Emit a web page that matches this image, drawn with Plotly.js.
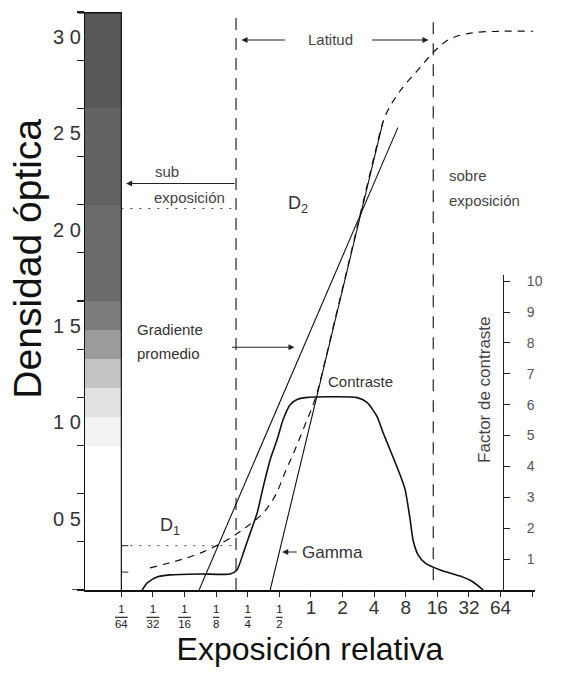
<!DOCTYPE html>
<html>
<head>
<meta charset="utf-8">
<script src="https://cdn.plot.ly/plotly-3.0.1.min.js"></script>
<style>html,body{margin:0;padding:0;background:#fff;}</style>
</head>
<body>
<div id="chart" style="width:566px;height:677px;"></div>
<script>
// ---- data (x = log2 of relative exposure, y = optical density) ----
const expTickVals = [-6, -5, -4, -3, -2, -1, 0, 1, 2, 3, 4, 5, 6, 7];
const expIntLabels = ['', '', '', '', '', '', '1', '2', '4', '8', '16', '32', '64', ''];
const expFracDen = ['64', '32', '16', '8', '4', '2', '', '', '', '', '', '', '', ''];

const densityTicks = [0, 0.25, 0.5, 0.75, 1.0, 1.25, 1.5, 1.75, 2.0, 2.25, 2.5, 2.75, 3.0];
const densityLabels = ['', '', '0 5', '', '1 0', '', '1 5', '', '2 0', '', '2 5', '', '3 0'];

const factorTicks = [1, 2, 3, 4, 5, 6, 7, 8, 9, 10];
const factorLabels = ['1', '2', '3', '4', '5', '6', '7', '8', '9', '10'];

// characteristic (H&D) curve, dashed
const hdX = [-5.09, -4.61, -4.14, -3.41, -2.65, -2.02, -1.51, -1.13, -0.82, -0.50, -0.18, 0.13, 0.45, 0.77, 1.08, 1.40, 1.72, 2.03, 2.35, 2.82, 3.39, 3.93, 4.40, 5.04, 5.99, 7.03];
const hdD = [0.115, 0.135, 0.156, 0.198, 0.26, 0.33, 0.40, 0.49, 0.61, 0.73, 0.86, 0.99, 1.19, 1.41, 1.62, 1.84, 2.06, 2.27, 2.46, 2.59, 2.70, 2.80, 2.86, 2.89, 2.90, 2.90];

// gamma tangent and average gradient lines
const gammaX = [-1.29, 2.28];
const gammaD = [0.0, 2.43];
const gradX = [-3.54, 2.75];
const gradD = [0.0, 2.40];

// contrast factor curve (right axis)
const contrastX = [-5.34, -5.18, -4.87, -4.46, -3.51, -2.56, -2.34, -2.14, -1.92, -1.70, -1.51, -1.29, -1.07, -0.88, -0.66, -0.44, -0.18, 1.46, 1.78, 2.09, 2.28, 2.50, 2.82, 2.98, 3.14, 3.23, 3.39, 3.61, 4.09, 4.72, 5.13, 5.45];
const contrastF = [0, 0.23, 0.42, 0.49, 0.52, 0.52, 0.65, 1.2, 1.85, 2.5, 3.34, 4.22, 4.87, 5.52, 6.0, 6.17, 6.23, 6.23, 6.07, 5.62, 5.10, 4.55, 3.73, 3.25, 2.27, 1.62, 1.14, 0.88, 0.65, 0.45, 0.26, 0];

// latitude limits and densities D1, D2
const latitudeX = [-2.37, 3.87];
const densD1 = 0.23;
const densD2 = 1.98;
const fogD = 0.093;

// grey step wedge at the left (density -> tone)
const wedgeX = [-7.15, -6];
const wedgeEdges = [0, 0.75, 0.9, 1.05, 1.2, 1.35, 1.5, 2.0, 2.5, 3.0];
const wedgeTone = [0, 0.05, 0.12, 0.25, 0.42, 0.55, 0.62, 0.66, 0.70];

// ---- traces ----
const FONT = 'Liberation Sans, Arial, sans-serif';
const traces = [
  {
    type: 'heatmap', x: wedgeX, y: wedgeEdges, z: wedgeTone.map(v => [v]),
    zmin: 0, zmax: 1, colorscale: [[0, '#ffffff'], [1, '#111111']],
    showscale: false, hoverinfo: 'skip'
  },
  {
    x: hdX, y: hdD, mode: 'lines', line: {color: '#111', width: 1.2, dash: '7px,6px', shape: 'spline'},
    hoverinfo: 'skip', showlegend: false
  },
  {
    x: gammaX, y: gammaD, mode: 'lines', line: {color: '#111', width: 1.1},
    hoverinfo: 'skip', showlegend: false
  },
  {
    x: gradX, y: gradD, mode: 'lines', line: {color: '#111', width: 1.1},
    hoverinfo: 'skip', showlegend: false
  },
  {
    x: [latitudeX[0], latitudeX[0]], y: [0, 2.97], mode: 'lines',
    line: {color: '#111', width: 1.1, dash: '12px,8px'}, hoverinfo: 'skip', showlegend: false
  },
  {
    x: [latitudeX[1], latitudeX[1]], y: [0.05, 2.95], mode: 'lines',
    line: {color: '#111', width: 1.1, dash: '12px,9px'}, hoverinfo: 'skip', showlegend: false
  },
  {
    x: [-6, latitudeX[0]], y: [densD1, densD1], mode: 'lines',
    line: {color: '#444', width: 1, dash: '2px,7px'}, hoverinfo: 'skip', showlegend: false
  },
  {
    x: [-6, latitudeX[0]], y: [densD2, densD2], mode: 'lines',
    line: {color: '#444', width: 1, dash: '2px,7px'}, hoverinfo: 'skip', showlegend: false
  },
  {
    x: contrastX, y: contrastF, yaxis: 'y2', mode: 'lines',
    line: {color: '#111', width: 1.6, shape: 'spline', smoothing: 0.6},
    hoverinfo: 'skip', showlegend: false
  },
  {
    x: expTickVals, y: expTickVals.map(() => 0), xaxis: 'x2', mode: 'markers',
    marker: {opacity: 0}, hoverinfo: 'skip', showlegend: false
  }
];

const annFont = (s, c) => ({family: FONT, size: s, color: c || '#333'});
const arrow = (x, y, ax, ay) => ({
  x: x, y: y, xref: 'x', yref: 'y', ax: ax, ay: ay, axref: 'pixel', ayref: 'pixel',
  text: '', showarrow: true, arrowhead: 2, arrowsize: 1.1, arrowwidth: 1.1, arrowcolor: '#222'
});

const layout = {
  width: 566, height: 677,
  margin: {l: 85, r: 31, t: 12, b: 87},
  paper_bgcolor: '#fff', plot_bgcolor: 'rgba(0,0,0,0)',
  showlegend: false,
  font: {family: FONT, color: '#222'},
  xaxis: {
    range: [-7.15, 7.09], showgrid: false, zeroline: false,
    showline: true, linecolor: '#111', linewidth: 1.5,
    tickvals: expTickVals, ticktext: expIntLabels,
    ticks: '',
    tickfont: {family: FONT, size: 19, color: '#333'},
    title: {text: 'Exposición relativa', font: {family: FONT, size: 32, color: '#111'}, standoff: 20}
  },
  xaxis2: {
    overlaying: 'x', anchor: 'y', side: 'bottom', range: [-7.15, 7.09],
    showgrid: false, zeroline: false, showline: false,
    ticks: 'outside', ticklen: 6, tickcolor: '#222', tickwidth: 1,
    tickvals: expTickVals,
    ticktext: expFracDen.map(d => d ? '1<br><span style="text-decoration:overline">' + d + '</span>' : ''),
    ticklabelstandoff: 2,
    tickfont: {family: FONT, size: 11.5, color: '#222'}
  },
  yaxis: {
    range: [0, 3.0], showgrid: false, zeroline: false,
    showline: true, linecolor: '#111', linewidth: 1.2,
    tickvals: densityTicks, ticktext: densityLabels,
    ticks: 'outside', ticklen: 7, tickcolor: '#222', tickwidth: 1.2,
    ticklabelshift: 25, ticklabelstandoff: -8,
    tickfont: {family: FONT, size: 20, color: '#333'}
  },
  yaxis2: {
    anchor: 'free', position: 0.929, side: 'right',
    domain: [0, 0.545], range: [0, 10.2],
    showgrid: false, zeroline: false,
    showline: true, linecolor: '#222', linewidth: 1,
    tickvals: factorTicks, ticktext: factorLabels,
    ticks: 'outside', ticklen: 6, tickcolor: '#222',
    ticklabelstandoff: 14,
    tickfont: {family: FONT, size: 14, color: '#555'}
  },
  shapes: [
    {type: 'line', xref: 'x', yref: 'y', x0: -6, x1: -6, y0: 0, y1: 3.0, line: {color: '#111', width: 1.2}},
    {type: 'line', xref: 'paper', yref: 'y', x0: -0.016, x1: 0.08, y0: 3.0, y1: 3.0, line: {color: '#111', width: 3}},
    {type: 'line', xref: 'paper', yref: 'y', x0: -0.029, x1: 0, y0: 0, y1: 0, line: {color: '#111', width: 1.5}},
    {type: 'line', xref: 'x', yref: 'y', x0: -6, x1: -5.78, y0: densD1, y1: densD1, line: {color: '#222', width: 1}},
    {type: 'line', xref: 'x', yref: 'y', x0: -6, x1: -5.78, y0: fogD, y1: fogD, line: {color: '#222', width: 1}}
  ],
  annotations: [
    {x: -0.128, y: 0.574, xref: 'paper', yref: 'paper', xanchor: 'center', yanchor: 'middle',
     text: 'Densidad óptica', textangle: -90, showarrow: false, font: annFont(39, '#111')},
    {x: 0.61, y: 2.855, xref: 'x', yref: 'y', text: 'Latitud', showarrow: false, font: annFont(15, '#444')},
    arrow(-2.2, 2.855, 45, 0),
    arrow(3.72, 2.855, -58, 0),
    {x: -4.99, y: 2.17, xref: 'x', yref: 'y', xanchor: 'left', text: 'sub', showarrow: false, font: annFont(15, '#444')},
    {x: -5.03, y: 2.035, xref: 'x', yref: 'y', xanchor: 'left', text: 'exposición', showarrow: false, font: annFont(15, '#444')},
    arrow(-5.85, 2.11, 110, 0),
    {x: 4.31, y: 2.15, xref: 'x', yref: 'y', xanchor: 'left', text: 'sobre', showarrow: false, font: annFont(15, '#444')},
    {x: 4.31, y: 2.02, xref: 'x', yref: 'y', xanchor: 'left', text: 'exposición', showarrow: false, font: annFont(15, '#444')},
    arrow(7.88, 2.09, -117, 0),
    {x: -0.4, y: 2.0, xref: 'x', yref: 'y', text: 'D<sub>2</sub>', showarrow: false, font: annFont(18, '#333')},
    {x: -4.45, y: 0.33, xref: 'x', yref: 'y', text: 'D<sub>1</sub>', showarrow: false, font: annFont(18, '#333')},
    {x: -5.56, y: 1.35, xref: 'x', yref: 'y', xanchor: 'left', text: 'Gradiente', showarrow: false, font: annFont(15, '#333')},
    {x: -5.56, y: 1.23, xref: 'x', yref: 'y', xanchor: 'left', text: 'promedio', showarrow: false, font: annFont(15, '#333')},
    arrow(-0.52, 1.26, -64, 0),
    {x: 1.56, y: 1.08, xref: 'x', yref: 'y', text: 'Contraste', showarrow: false, font: annFont(15, '#333')},
    {x: -0.34, y: 0.197, xref: 'x', yref: 'y', xanchor: 'left', text: 'Gamma', showarrow: false, font: annFont(17, '#333')},
    arrow(-0.91, 0.197, 16, 0),
    {x: 0.912, y: 0.346, xref: 'paper', yref: 'paper', text: 'Factor de contraste', textangle: -90,
     showarrow: false, font: annFont(17, '#444')}
  ]
};

Plotly.newPlot('chart', traces, layout, {staticPlot: true, displayModeBar: false});
</script>
</body>
</html>
